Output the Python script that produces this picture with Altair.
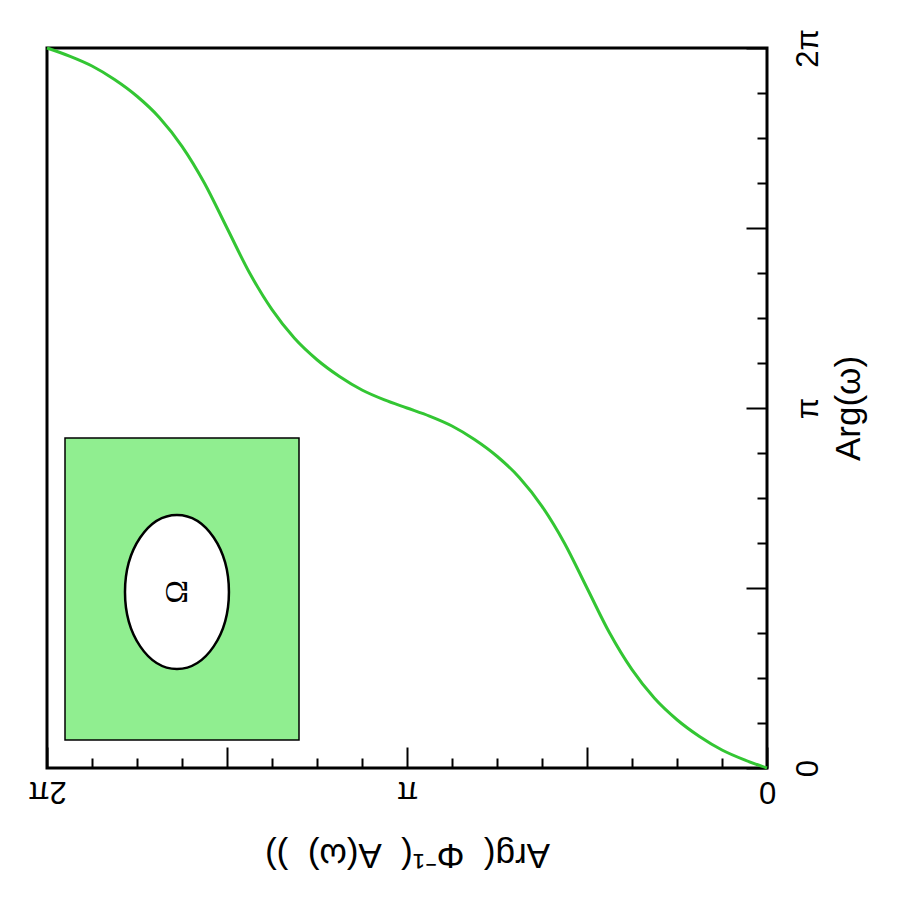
import math
import altair as alt
import pandas as pd

PI = math.pi

# curve: horizontal axis value (Arg(Phi^-1(A(w)))) and vertical (Arg(w)), in units of pi
h_pi = [0.0, 0.0625, 0.125, 0.1875, 0.25, 0.3125, 0.375, 0.4375, 0.5, 0.5625, 0.625, 0.6875,
        0.75, 0.8125, 0.875, 0.9375, 1.0, 1.0625, 1.125, 1.1875, 1.25, 1.3125, 1.375, 1.4375,
        1.5, 1.5625, 1.625, 1.6875, 1.75, 1.8125, 1.875, 1.9375, 2.0]
v_pi = [0.0, 0.0225, 0.05, 0.0875, 0.134, 0.1935, 0.273, 0.3755, 0.5, 0.6245, 0.727, 0.8065,
        0.866, 0.9125, 0.95, 0.9775, 1.0, 1.0225, 1.05, 1.0875, 1.134, 1.1935, 1.273, 1.3755,
        1.5, 1.6245, 1.727, 1.8065, 1.866, 1.9125, 1.95, 1.9775, 2.0]

# tick positions (units of pi)
label_ticks = [0.0, 1.0, 2.0]
major_ticks = [0.0, 0.5, 1.0, 1.5, 2.0]
minor_ticks = [0.125, 0.25, 0.375, 0.625, 0.75, 0.875, 1.125, 1.25, 1.375, 1.625, 1.75, 1.875]

# inset (domain picture) in data units of pi
inset_h = [1.95, 1.30]
inset_v = [0.917, 0.078]
omega_h = [1.639]
omega_v = [0.489]
omega_label = ["Ω"]

curve = pd.DataFrame({"h": [a * PI for a in h_pi], "v": [b * PI for b in v_pi]})
inset = pd.DataFrame({"h1": [inset_h[0] * PI], "h2": [inset_h[1] * PI],
                      "v1": [inset_v[0] * PI], "v2": [inset_v[1] * PI]})
omega = pd.DataFrame({"h": [a * PI for a in omega_h], "v": [b * PI for b in omega_v],
                      "t": omega_label})

xs = alt.Scale(domain=[0, 2 * PI], reverse=True, nice=False, zero=False)
ys = alt.Scale(domain=[0, 2 * PI], nice=False, zero=False)

lab = "abs(datum.value) < 0.01 ? '0' : (abs(datum.value - PI) < 0.01 ? 'π' : '2π')"
FONT = "Liberation Sans"
NB = "\u00a0"
x_title = "Arg(" + NB * 2 + "Φ⁻¹(" + NB * 2 + "A(ω)" + NB * 2 + "))"

x_label_axis = alt.Axis(values=[t * PI for t in label_ticks], labelExpr=lab, orient="bottom",
                        ticks=False, domain=False, grid=False, labelAngle=180,
                        labelAlign="center", labelBaseline="bottom", labelPadding=6,
                        labelFont=FONT, labelFontSize=31, labelColor="black",
                        title=x_title, titleAngle=180, titleBaseline="bottom",
                        titleFont=FONT, titleFontSize=35, titleFontWeight="normal",
                        titleColor="black", titlePadding=30)
y_label_axis = alt.Axis(values=[t * PI for t in label_ticks], labelExpr=lab, orient="right",
                        ticks=False, domain=False, grid=False, labelAngle=270,
                        labelAlign="center", labelBaseline="top", labelPadding=26,
                        labelFont=FONT, labelFontSize=31, labelColor="black",
                        title="Arg(ω)", titleAngle=270, titleBaseline="top",
                        titleFont=FONT, titleFontSize=35, titleFontWeight="normal",
                        titleColor="black", titlePadding=8)


def tick_axes(vals, size):
    ax = alt.Axis(values=[t * PI for t in vals], orient="bottom", labels=False, domain=False,
                  grid=False, tickSize=size, offset=-size, tickWidth=2, tickColor="black",
                  title=None)
    ay = alt.Axis(values=[t * PI for t in vals], orient="right", labels=False, domain=False,
                  grid=False, tickSize=size, offset=-size, tickWidth=2, tickColor="black",
                  title=None)
    return ax, ay


base = alt.Chart(curve)
order = alt.Order("h:Q", sort="descending")

line = base.mark_line(color="#33c633", strokeWidth=3, interpolate="monotone").encode(
    x=alt.X("h:Q", scale=xs, axis=x_label_axis),
    y=alt.Y("v:Q", scale=ys, axis=y_label_axis),
    order=order,
)

mx, my = tick_axes(major_ticks, 21)
major = base.mark_line(opacity=0).encode(
    x=alt.X("h:Q", scale=xs, axis=mx), y=alt.Y("v:Q", scale=ys, axis=my), order=order)
nx, ny = tick_axes(minor_ticks, 10)
minor = base.mark_line(opacity=0).encode(
    x=alt.X("h:Q", scale=xs, axis=nx), y=alt.Y("v:Q", scale=ys, axis=ny), order=order)

rect = alt.Chart(inset).mark_rect(fill="#90ee90", stroke="black", strokeWidth=1.5).encode(
    x=alt.X("h1:Q", scale=xs, axis=None), x2="h2:Q",
    y=alt.Y("v1:Q", scale=ys, axis=None), y2="v2:Q")

ellipse_path = "M -0.675 0 A 0.675 1 0 1 0 0.675 0 A 0.675 1 0 1 0 -0.675 0 Z"
ellipse = alt.Chart(omega).mark_point(shape=ellipse_path, size=154 * 154, filled=True,
                                      fill="white", stroke="black", strokeWidth=2.5,
                                      opacity=1).encode(
    x=alt.X("h:Q", scale=xs, axis=None), y=alt.Y("v:Q", scale=ys, axis=None))

omega_txt = alt.Chart(omega).mark_text(font="Liberation Serif", fontSize=32, angle=270,
                                       color="black", align="center",
                                       baseline="middle").encode(
    x=alt.X("h:Q", scale=xs, axis=None), y=alt.Y("v:Q", scale=ys, axis=None), text="t:N")

chart = alt.layer(rect, ellipse, omega_txt, major, minor, line).resolve_axis(
    x="independent", y="independent"
).properties(
    width=720, height=720,
    autosize=alt.AutoSizeParams(type="none"),
    padding={"left": 39, "top": 40, "right": 120, "bottom": 120},
    background="white",
).configure_view(stroke="black", strokeWidth=3)

chart.save("out.html", embed_options={"renderer": "svg", "actions": False})
